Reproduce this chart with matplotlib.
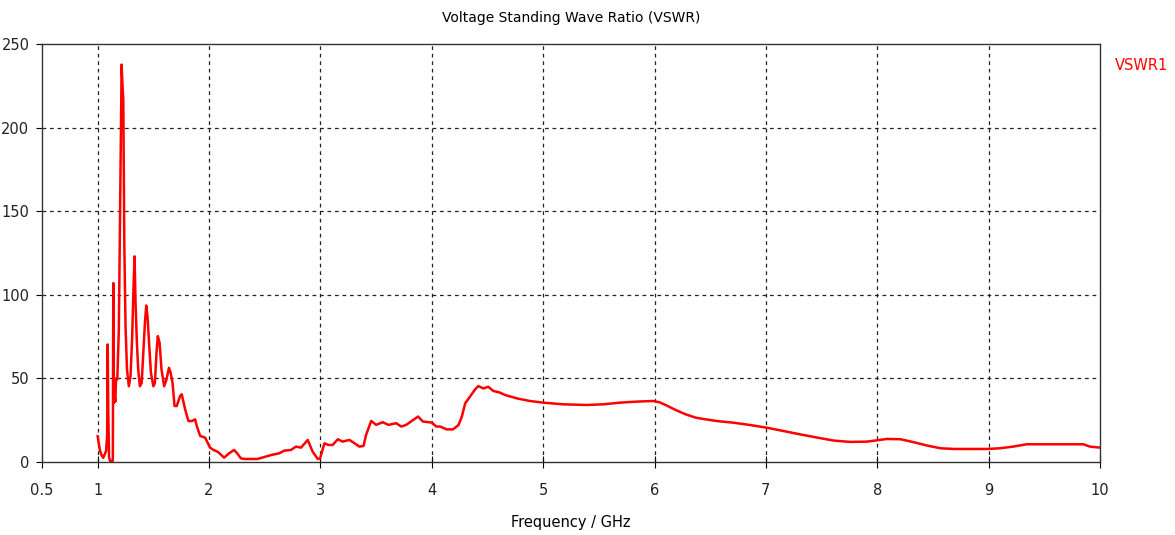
import numpy as np
import matplotlib.pyplot as plt

# frequency in GHz, VSWR
freq = [1.000, 1.020, 1.035, 1.050, 1.075, 1.085, 1.090, 1.095, 1.102, 1.110, 1.125, 1.136,
        1.140, 1.146, 1.150, 1.158, 1.165, 1.176, 1.190, 1.200, 1.215, 1.223, 1.230, 1.239,
        1.250, 1.263, 1.280, 1.295, 1.310, 1.320, 1.331, 1.340, 1.352, 1.364, 1.379, 1.395,
        1.410, 1.424, 1.436, 1.448, 1.460, 1.478, 1.500, 1.514, 1.528, 1.540, 1.556, 1.573,
        1.597, 1.618, 1.640, 1.655, 1.672, 1.690, 1.710, 1.740, 1.755, 1.785, 1.815, 1.845,
        1.875, 1.890, 1.920, 1.964, 2.009, 2.040, 2.080, 2.135, 2.180, 2.225, 2.255, 2.285,
        2.320, 2.435, 2.510, 2.560, 2.630, 2.676, 2.735, 2.780, 2.826, 2.886, 2.930, 2.976,
        2.997, 3.036, 3.070, 3.110, 3.156, 3.200, 3.260, 3.306, 3.350, 3.387, 3.410, 3.456,
        3.500, 3.560, 3.610, 3.680, 3.727, 3.770, 3.877, 3.920, 4.000, 4.040, 4.075, 4.134,
        4.190, 4.240, 4.270, 4.300, 4.343, 4.390, 4.418, 4.463, 4.507, 4.552, 4.612, 4.657,
        4.761, 4.880, 5.000, 5.180, 5.390, 5.540, 5.690, 5.836, 5.985, 6.045, 6.100, 6.190,
        6.280, 6.370, 6.460, 6.560, 6.710, 6.860, 7.010, 7.160, 7.310, 7.460, 7.610, 7.760,
        7.910, 8.000, 8.090, 8.210, 8.330, 8.450, 8.570, 8.690, 8.990, 9.100, 9.220, 9.340,
        9.850, 9.910, 10.000]
vswr = [15.4, 7.0, 4.0, 2.5, 6.5, 15.4, 70.3, 30.0, 3.0, 0.7, 0.7, 0.7,
        107.0, 35.4, 42.0, 36.0, 50.0, 49.4, 79.4, 145.0, 237.7, 225.0, 216.8, 131.0,
        81.2, 55.3, 45.3, 51.3, 75.3, 101.0, 123.0, 95.0, 71.3, 55.3, 45.3, 47.3,
        65.3, 83.0, 93.6, 86.7, 72.7, 53.4, 45.3, 47.3, 65.3, 75.3, 71.3, 55.3,
        45.3, 49.4, 56.3, 53.4, 47.4, 33.5, 33.5, 39.5, 40.5, 31.5, 24.5, 24.5,
        25.5, 21.5, 15.6, 14.6, 8.6, 7.2, 6.0, 2.6, 5.2, 7.2, 5.0, 2.2,
        1.8, 1.8, 3.2, 4.2, 5.2, 6.8, 7.2, 9.2, 8.6, 13.2, 6.2, 1.8,
        2.2, 11.2, 10.2, 10.2, 13.6, 12.2, 13.2, 11.2, 9.2, 9.6, 16.2, 24.6,
        22.2, 23.8, 22.2, 23.2, 21.2, 22.2, 27.2, 24.2, 23.6, 21.2, 21.2, 19.5,
        19.5, 22.1, 27.2, 35.1, 39.1, 43.5, 45.4, 44.0, 45.0, 42.5, 41.5, 40.1,
        38.1, 36.5, 35.5, 34.5, 34.1, 34.5, 35.5, 36.1, 36.5, 35.7, 34.1, 31.1,
        28.5, 26.5, 25.5, 24.5, 23.5, 22.1, 20.5, 18.5, 16.5, 14.6, 12.8, 12.0,
        12.2, 13.0, 13.8, 13.6, 11.8, 9.8, 8.2, 7.8, 7.8, 8.2, 9.2, 10.6,
        10.6, 9.2, 8.6]

xticks = [0.5, 1, 2, 3, 4, 5, 6, 7, 8, 9, 10]
xticklabels = ["0.5", "1", "2", "3", "4", "5", "6", "7", "8", "9", "10"]
yticks = [0, 50, 100, 150, 200, 250]

plt.rcParams['font.family'] = ['DejaVu Sans']

fig = plt.figure(figsize=(11.75, 5.35), dpi=100)
ax = fig.add_axes([42/1175, 73/535, 1058/1175, 418/535])

ax.plot(freq, vswr, color='#ff0000', lw=1.8, label='VSWR1')

ax.set_xlim(0.5, 10)
ax.set_ylim(0, 250)
ax.set_xticks(xticks)
ax.set_xticklabels(xticklabels)
ax.set_yticks(yticks)
ax.tick_params(axis='x', direction='inout', length=8, pad=11, labelsize=10.5,
               color='black', labelcolor='#222222')
ax.tick_params(axis='y', direction='out', length=4, pad=5, labelsize=10.5,
               color='black', labelcolor='#222222')

# grid lines, skip the ones sitting on the frame
for xv in xticks[1:-1]:
    ax.axvline(xv, color='#222222', lw=0.9, ls=(0, (3, 3)), zorder=0)
for yv in yticks[1:-1]:
    ax.axhline(yv, color='#222222', lw=0.9, ls=(0, (3, 3)), zorder=0)

for s in ax.spines.values():
    s.set_linewidth(1)
    s.set_color('#333333')

ax.set_title("Voltage Standing Wave Ratio (VSWR)", fontsize=10, pad=16)
ax.set_xlabel("Frequency / GHz", fontsize=10.5, labelpad=12)
fig.text(1115/1175, 1 - 66/535, "VSWR1", color='#ff0000', fontsize=10.5, va='center', ha='left')

plt.savefig("out.png", dpi=100)
